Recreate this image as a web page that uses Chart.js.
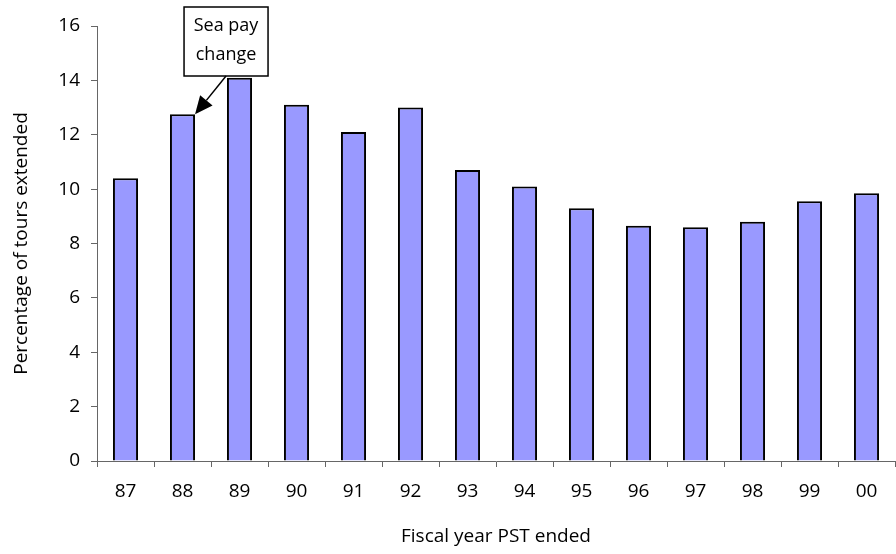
<!DOCTYPE html>
<html>
<head>
<meta charset="utf-8">
<script src="https://cdn.jsdelivr.net/npm/chart.js@4/dist/chart.umd.min.js"></script>
<style>
  html, body { margin: 0; padding: 0; background: #fff; }
  #wrap { width: 896px; height: 554px; }
</style>
</head>
<body>
<div id="wrap"><canvas id="c" width="896" height="554"></canvas></div>
<script>
// Fiscal years in which the PST ended, and share of tours extended (%)
const years = ['87', '88', '89', '90', '91', '92', '93', '94', '95', '96', '97', '98', '99', '00'];
const pctExtended = [10.4, 12.75, 14.1, 13.1, 12.1, 13.0, 10.7, 10.1, 9.3, 8.65, 8.6, 8.8, 9.55, 9.85];
const yTicks = [0, 2, 4, 6, 8, 10, 12, 14, 16];

// Callout pointing at the 88 bar
const callout = { index: 1, lines: ['Sea pay', 'change'] };

const FONT = "'Open Sans', 'DejaVu Sans', sans-serif";

const calloutPlugin = {
  id: 'callout',
  afterDatasetsDraw(chart) {
    const ctx = chart.ctx;
    const bar = chart.getDatasetMeta(0).data[callout.index];
    const tipX = bar.x + bar.width / 2;
    const tipY = chart.scales.y.getPixelForValue(pctExtended[callout.index]);

    // label box
    const bx = tipX - 11, by = 7, bw = 84, bh = 69;
    ctx.save();
    ctx.fillStyle = '#fff';
    ctx.strokeStyle = '#000';
    ctx.lineWidth = 1.5;
    ctx.fillRect(bx, by, bw, bh);
    ctx.strokeRect(bx, by, bw, bh);
    ctx.fillStyle = '#000';
    ctx.font = '18px ' + FONT;
    ctx.textAlign = 'center';
    ctx.textBaseline = 'middle';
    ctx.fillText(callout.lines[0], bx + bw / 2, by + 19);
    ctx.fillText(callout.lines[1], bx + bw / 2, by + 48);

    // arrow from the box's lower edge down to the bar top
    const sx = tipX + 31, sy = by + bh;
    const ang = Math.atan2(tipY - sy, tipX - sx);
    const headLen = 18, headHalf = 8;
    const baseX = tipX - headLen * Math.cos(ang), baseY = tipY - headLen * Math.sin(ang);
    ctx.lineWidth = 1.5;
    ctx.beginPath();
    ctx.moveTo(sx, sy);
    ctx.lineTo(baseX, baseY);
    ctx.stroke();
    ctx.beginPath();
    ctx.moveTo(tipX, tipY);
    ctx.lineTo(baseX + headHalf * Math.sin(ang), baseY - headHalf * Math.cos(ang));
    ctx.lineTo(baseX - headHalf * Math.sin(ang), baseY + headHalf * Math.cos(ang));
    ctx.closePath();
    ctx.fill();
    ctx.restore();
  }
};

new Chart(document.getElementById('c'), {
  type: 'bar',
  data: {
    labels: years,
    datasets: [{
      data: pctExtended,
      backgroundColor: '#9999FF',
      borderColor: '#000',
      borderWidth: 2,
      categoryPercentage: 1.0,
      barPercentage: 0.44
    }]
  },
  options: {
    responsive: false,
    animation: false,
    layout: { padding: { top: 26, right: 1, left: 0, bottom: 0 } },
    plugins: { legend: { display: false }, tooltip: { enabled: false } },
    scales: {
      x: {
        offset: true,
        grid: { offset: true, drawOnChartArea: false, tickLength: 6, color: '#666', tickColor: '#666' },
        border: { color: '#666', width: 1 },
        ticks: { color: '#000', font: { family: FONT, size: 19 }, padding: 13, maxRotation: 0 },
        title: { display: true, text: 'Fiscal year PST ended', color: '#000', font: { family: FONT, size: 19 }, padding: { top: 4, bottom: 6 } },
        afterFit(scale) { scale.height = 93; }
      },
      y: {
        min: 0, max: 16,
        afterBuildTicks(scale) { scale.ticks = yTicks.map(v => ({ value: v })); },
        grid: { drawOnChartArea: false, tickLength: 6, color: '#666', tickColor: '#666' },
        border: { color: '#666', width: 1 },
        ticks: { color: '#000', font: { family: FONT, size: 19 }, padding: 11 },
        title: { display: true, text: 'Percentage of tours extended', color: '#000', font: { family: FONT, size: 19 }, padding: { top: 10, bottom: 4 } },
        afterFit(scale) { scale.width = 97; }
      }
    }
  },
  plugins: [calloutPlugin]
});
</script>
</body>
</html>
